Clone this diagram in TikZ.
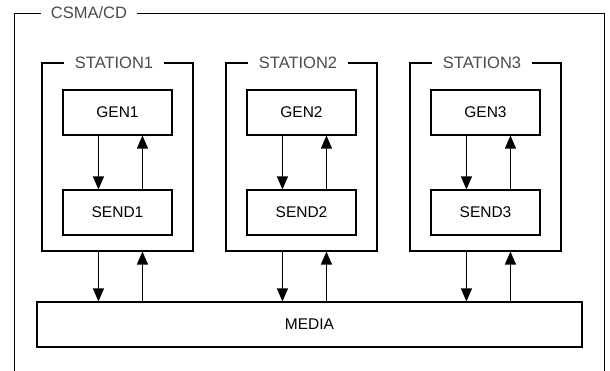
\documentclass[tikz,border=0pt]{standalone}
\usepackage{fontspec}
\setmainfont{Liberation Sans}
\usetikzlibrary{arrows.meta}
\definecolor{titlegray}{RGB}{75,75,75}
\tikzset{
  blk/.style={draw=black, line width=1.1pt, fill=white, minimum width=109pt, minimum height=45pt, inner sep=0pt, font=\fontsize{15.5}{18}\selectfont},
  stbox/.style={draw=black, line width=1.1pt, minimum width=151pt, minimum height=188pt, inner sep=0pt},
  ttl/.style={fill=white, text=titlegray, inner xsep=10pt, inner ysep=2pt, font=\fontsize{16.5}{19}\selectfont},
  arr/.style={line width=1.2pt, -{Triangle[width=11pt,length=13pt]}},
}
\begin{document}
\begin{tikzpicture}[x=1pt,y=-1pt]
\useasboundingbox (0,0) rectangle (610,370);
\clip (0,0) rectangle (610,370);
% outer frame
\draw[line width=1pt] (14,385) -- (14,13) -- (604,13) -- (604,385);
\node[ttl] (csma) at (89,13) {CSMA/CD};
% stations
\foreach \i/\cx in {1/117.5, 2/301.5, 3/485.5} {
  \node[stbox] (st\i) at (\cx,157) {};
  \node[ttl, inner xsep=11pt] (stt\i) at (\cx-3.5,63) {STATION\i};
  \node[blk] (gen\i) at (\cx,112.5) {GEN\i};
  \node[blk] (send\i) at (\cx,212.5) {SEND\i};
  \draw[arr] ([xshift=36pt]gen\i.south west) -- ([xshift=36pt]send\i.north west);
  \draw[arr] ([xshift=80pt]send\i.north west) -- ([xshift=80pt]gen\i.south west);
}
\node[blk, minimum width=545pt] (media) at (309.5,324.5) {MEDIA};
\foreach \i in {1,2,3} {
  \draw[arr] ([xshift=57pt]st\i.south west) -- ([xshift=57pt]st\i.south west |- media.north);
  \draw[arr] ([xshift=101pt]st\i.south west |- media.north) -- ([xshift=101pt]st\i.south west);
}
\end{tikzpicture}
\end{document}
